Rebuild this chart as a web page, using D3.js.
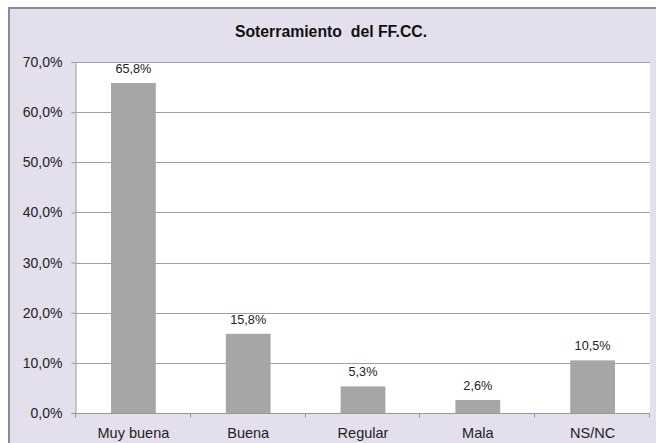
<!DOCTYPE html>
<html>
<head>
<meta charset="utf-8">
<script src="https://cdn.jsdelivr.net/npm/d3@7"></script>
<style>
  body { margin: 0; background: #fff; }
  svg { display: block; font-family: "Liberation Sans", Arial, sans-serif; }
</style>
</head>
<body>
<svg id="chart" width="656" height="443"></svg>
<script>
// --- data ---
var categories = ["Muy buena", "Buena", "Regular", "Mala", "NS/NC"];
var values = [65.8, 15.8, 5.3, 2.6, 10.5];
var yTicks = [0, 10, 20, 30, 40, 50, 60, 70];
var title = "Soterramiento  del FF.CC.";

var svg = d3.select("#chart");
var W = 656, H = 443;

// chart frame (lavender)
svg.append("rect")
    .attr("x", 9).attr("y", 8)
    .attr("width", W).attr("height", H)
    .attr("fill", "#e4dfec")
    .attr("stroke", "#8c8c8c")
    .attr("stroke-width", 2);

var plot = { left: 76, right: 650, top: 62, bottom: 413 };

var x = d3.scaleBand()
    .domain(categories)
    .range([plot.left, plot.right])
    .paddingInner(0.61)
    .paddingOuter(0.305);

var y = d3.scaleLinear()
    .domain([0, 70])
    .range([plot.bottom, plot.top]);

// plot background
svg.append("rect")
    .attr("x", plot.left).attr("y", plot.top)
    .attr("width", plot.right - plot.left)
    .attr("height", plot.bottom - plot.top)
    .attr("fill", "#ffffff");

// gridlines
svg.append("g")
    .selectAll("line")
    .data(yTicks.filter(d => d > 0))
    .join("line")
    .attr("x1", plot.left).attr("x2", plot.right)
    .attr("y1", d => Math.round(y(d)) + 0.5)
    .attr("y2", d => Math.round(y(d)) + 0.5)
    .attr("stroke", "#a0a0a0")
    .attr("stroke-width", 1);

// bars
svg.append("g")
    .selectAll("rect")
    .data(values)
    .join("rect")
    .attr("x", (d, i) => x(categories[i]))
    .attr("width", x.bandwidth())
    .attr("y", d => y(d))
    .attr("height", d => y(0) - y(d))
    .attr("fill", "#a6a6a6");

// value labels
svg.append("g")
    .selectAll("text")
    .data(values)
    .join("text")
    .attr("x", (d, i) => x(categories[i]) + x.bandwidth() / 2)
    .attr("y", d => y(d) - 10)
    .attr("text-anchor", "middle")
    .attr("font-size", 12.7)
    .attr("fill", "#222")
    .text(d => d.toFixed(1).replace(".", ",") + "%");

// y axis
var yAxis = d3.axisLeft(y)
    .tickValues(yTicks)
    .tickSize(4)
    .tickFormat(d => d.toFixed(1).replace(".", ",") + "%");

var gy = svg.append("g")
    .attr("transform", "translate(" + (plot.left - 0.5) + ",0)")
    .call(yAxis);
gy.select(".domain").attr("stroke", "#9a9a9a");
gy.selectAll(".tick line").attr("stroke", "#9a9a9a");
gy.selectAll(".tick text")
    .attr("x", -13)
    .attr("font-size", 14)
    .attr("font-family", "Liberation Sans, Arial, sans-serif")
    .attr("fill", "#222");

// x axis
var gx = svg.append("g")
    .attr("transform", "translate(0," + (plot.bottom + 0.5) + ")");
gx.append("line")
    .attr("x1", plot.left - 4).attr("x2", plot.right)
    .attr("stroke", "#9a9a9a");
var step = (plot.right - plot.left) / categories.length;
gx.selectAll(".sep")
    .data(d3.range(categories.length + 1))
    .join("line")
    .attr("class", "sep")
    .attr("x1", i => Math.round(plot.left + i * step) - 0.5)
    .attr("x2", i => Math.round(plot.left + i * step) - 0.5)
    .attr("y1", 0).attr("y2", 4)
    .attr("stroke", "#9a9a9a");
gx.selectAll("text")
    .data(categories)
    .join("text")
    .attr("x", d => x(d) + x.bandwidth() / 2)
    .attr("y", 24)
    .attr("text-anchor", "middle")
    .attr("font-size", 14.5)
    .attr("fill", "#222")
    .text(d => d);

// title
svg.append("text")
    .attr("x", 331).attr("y", 37)
    .attr("text-anchor", "middle")
    .attr("font-size", 15.8)
    .attr("font-weight", "bold")
    .attr("fill", "#111")
    .attr("xml:space", "preserve")
    .text(title);
</script>
</body>
</html>
